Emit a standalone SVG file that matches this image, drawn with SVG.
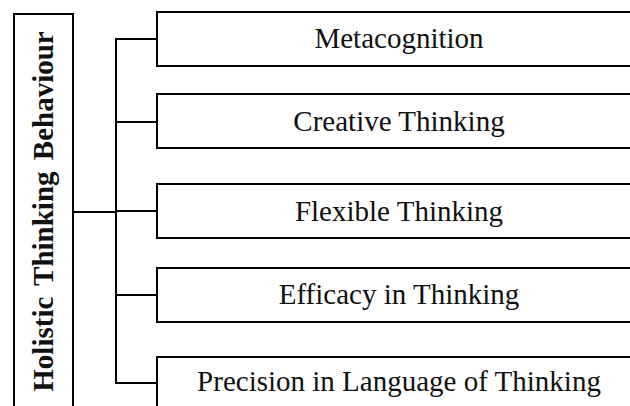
<svg xmlns="http://www.w3.org/2000/svg" width="630" height="406" viewBox="0 0 630 406">
  <style>
    .box { fill: #ffffff; stroke: #000000; stroke-width: 2; }
    .wire { fill: none; stroke: #000000; stroke-width: 2; }
    .label { font-family: "Liberation Serif", "Times New Roman", serif; font-size: 29px; fill: #111111; text-anchor: middle; }
    .root-label { font-family: "Liberation Serif", "Times New Roman", serif; font-size: 29px; font-weight: bold; fill: #111111; text-anchor: middle; word-spacing: 4px; }
  </style>
  <rect width="630" height="406" fill="#ffffff"/>

  <!-- root node -->
  <g id="holistic-thinking-behaviour">
    <rect class="box" x="14" y="14" width="59" height="400"/>
    <text class="root-label" transform="translate(53,211.5) rotate(-90)" x="0" y="0">Holistic Thinking Behaviour</text>
  </g>

  <!-- connectors -->
  <g id="connectors">
    <path class="wire" d="M73 212 H116"/>
    <path class="wire" d="M116 38 V384"/>
    <path class="wire" d="M116 39 H157"/>
    <path class="wire" d="M116 122 H157"/>
    <path class="wire" d="M116 211 H157"/>
    <path class="wire" d="M116 295 H157"/>
    <path class="wire" d="M116 383 H157"/>
  </g>

  <!-- child nodes -->
  <g id="metacognition">
    <rect class="box" x="157" y="12" width="500" height="54"/>
    <text class="label" x="399" y="48">Metacognition</text>
  </g>
  <g id="creative-thinking">
    <rect class="box" x="157" y="94" width="500" height="54"/>
    <text class="label" x="399" y="131">Creative Thinking</text>
  </g>
  <g id="flexible-thinking">
    <rect class="box" x="157" y="184" width="500" height="54"/>
    <text class="label" x="399" y="221">Flexible Thinking</text>
  </g>
  <g id="efficacy-in-thinking">
    <rect class="box" x="157" y="268" width="500" height="54"/>
    <text class="label" x="399" y="304">Efficacy in Thinking</text>
  </g>
  <g id="precision-in-language">
    <rect class="box" x="157" y="357" width="500" height="60"/>
    <text class="label" x="399" y="391">Precision in Language of Thinking</text>
  </g>
</svg>
